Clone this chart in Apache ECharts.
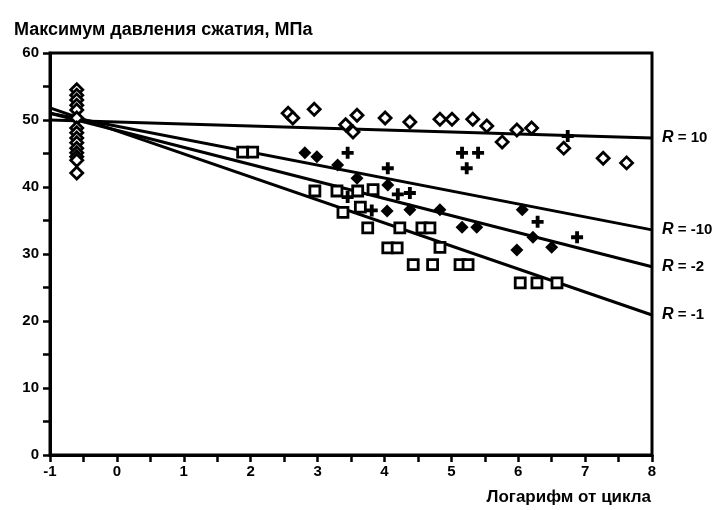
<!DOCTYPE html>
<html><head><meta charset="utf-8">
<script src="https://cdn.jsdelivr.net/npm/echarts@6/dist/echarts.min.js"></script>
<style>html,body{margin:0;padding:0;background:#fff}#c{width:725px;height:510px}</style>
</head><body><div id="c"></div>
<script>
const yTitle = 'Максимум давления сжатия, МПа';
const xTitle = 'Логарифм от цикла';
const lineNames = ['10', '-10', '-2', '-1'];
const lineR10 = [[-1, 50.0], [8, 47.3]];
const lineRm10 = [[-1, 51.0], [8, 33.6]];
const lineRm2 = [[-1, 51.0], [8, 28.1]];
const lineRm1 = [[-1, 51.8], [8, 20.9]];
const staticPts = [[-0.6,54.5],[-0.6,53.7],[-0.6,53.0],[-0.6,52.2],[-0.6,51.5],[-0.6,50.3],[-0.6,48.8],[-0.6,48.1],[-0.6,47.3],[-0.6,46.6],[-0.6,45.8],[-0.6,45.1],[-0.6,44.5],[-0.6,44.0],[-0.6,42.1]];
const openDiamonds = [[2.56,51.0],[2.63,50.3],[2.95,51.6],[3.42,49.3],[3.53,48.2],[3.59,50.7],[4.01,50.3],[4.38,49.7],[4.83,50.1],[5.01,50.1],[5.32,50.1],[5.53,49.1],[5.76,46.7],[5.98,48.5],[6.2,48.8],[6.68,45.8],[7.27,44.3],[7.62,43.6]];
const plusPts = [[3.45,45.1],[4.05,42.8],[5.16,45.1],[5.40,45.1],[5.23,42.8],[4.2,38.9],[4.38,39.1],[3.45,38.5],[3.81,36.5],[6.29,34.8],[6.88,32.5],[6.74,47.6]];
const filledDiamonds = [[2.81,45.1],[2.99,44.5],[3.30,43.3],[3.59,41.3],[4.05,40.3],[4.04,36.4],[4.38,36.6],[4.83,36.6],[5.16,34.0],[5.38,34.0],[6.06,36.6],[5.98,30.6],[6.22,32.5],[6.5,31.0]];
const openSquares = [[1.88,45.2],[2.03,45.2],[2.96,39.4],[3.29,39.4],[3.6,39.4],[3.83,39.6],[3.38,36.2],[3.64,37.0],[3.75,33.9],[4.23,33.9],[4.56,33.9],[4.68,33.9],[4.05,30.9],[4.19,30.9],[4.83,31.0],[4.43,28.4],[4.72,28.4],[5.13,28.4],[5.25,28.4],[6.03,25.7],[6.28,25.7],[6.58,25.7]];

const FONT = 'Liberation Sans, Arial, sans-serif';
const chart = echarts.init(document.getElementById('c'));
const plusPath = 'path://M3.4,0H6.6V3.4H10V6.6H6.6V10H3.4V6.6H0V3.4H3.4Z';
const lines = [lineR10, lineRm10, lineRm2, lineRm1];
const lineSeries = lines.map((d, i) => ({
  type: 'line', data: d, symbol: 'none', silent: true, z: 3,
  lineStyle: {color: '#000', width: 3},
  endLabel: {show: true, distance: 10, formatter: '{r|R} = ' + lineNames[i],
    color: '#000', fontSize: 15, fontWeight: 'bold', fontFamily: FONT,
    rich: {r: {fontStyle: 'italic', fontSize: 16, fontWeight: 'bold', fontFamily: FONT}}}
}));
const scat = (data, symbol, size, filled) => ({
  type: 'scatter', data, symbol, symbolSize: size, z: 4,
  itemStyle: filled ? {color: '#000', opacity: 1} : {color: '#fff', borderColor: '#000', borderWidth: 2.8, opacity: 1}
});
chart.setOption({
  animation: false,
  title: [
    {text: yTitle, left: 9, top: 16, textStyle: {fontSize: 18, fontWeight: 'bold', fontFamily: FONT, color: '#000'}},
    {text: xTitle, right: 69, top: 484, textStyle: {fontSize: 17, fontWeight: 'bold', fontFamily: FONT, color: '#000'}}
  ],
  grid: {left: 50, right: 73, top: 53, bottom: 55, show: true, borderColor: '#000', borderWidth: 3, backgroundColor: 'transparent'},
  xAxis: {type: 'value', min: -1, max: 8, interval: 1,
    axisLine: {onZero: false, lineStyle: {color: '#000', width: 3}},
    axisTick: {length: 7, lineStyle: {color: '#000', width: 2.5}},
    minorTick: {show: true, splitNumber: 2, length: 7, lineStyle: {color: '#000', width: 2.5}},
    splitLine: {show: false},
    axisLabel: {color: '#000', fontSize: 15, fontWeight: 'bold', fontFamily: FONT, margin: 9}},
  yAxis: {type: 'value', min: 0, max: 60, interval: 10,
    axisLine: {show: true, onZero: false, lineStyle: {color: '#000', width: 3}},
    axisTick: {show: true, length: 7, lineStyle: {color: '#000', width: 2.5}},
    minorTick: {show: true, splitNumber: 2, length: 7, lineStyle: {color: '#000', width: 2.5}},
    splitLine: {show: false},
    axisLabel: {color: '#000', fontSize: 15, fontWeight: 'bold', fontFamily: FONT, margin: 11}},
  series: [
    ...lineSeries,
    scat(staticPts, 'diamond', 12, false),
    scat(openDiamonds, 'diamond', 12, false),
    scat(plusPts, plusPath, 12, true),
    scat(filledDiamonds, 'diamond', 13, true),
    scat(openSquares, 'rect', 10, false)
  ]
});
</script></body></html>
